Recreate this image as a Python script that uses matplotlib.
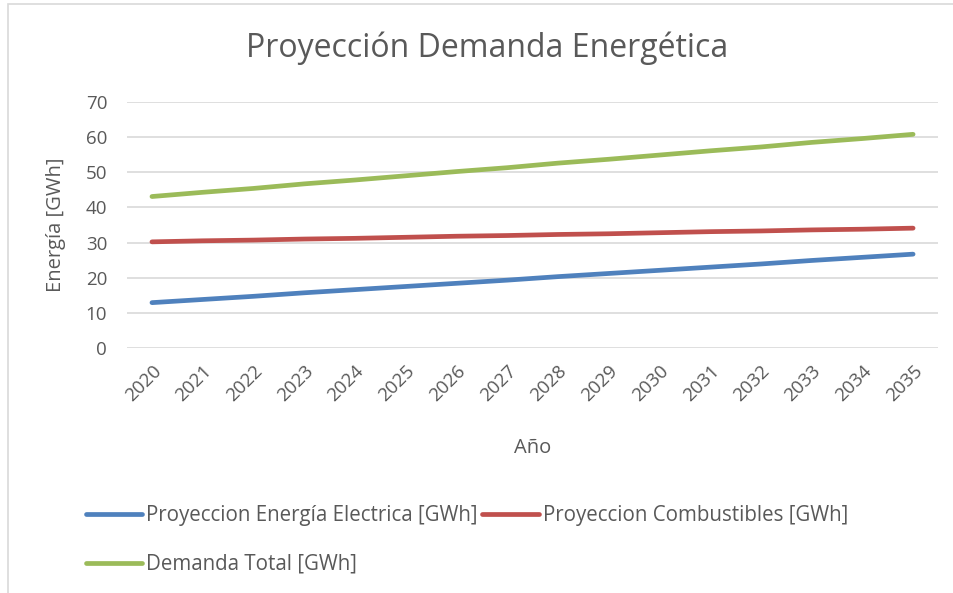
import matplotlib.pyplot as plt
from matplotlib.patches import Rectangle

years = [str(y) for y in range(2020, 2036)]
electrica = [12.9, 13.8, 14.7, 15.7, 16.6, 17.5, 18.4, 19.3,
             20.3, 21.2, 22.1, 23.0, 23.9, 24.9, 25.8, 26.7]
combustibles = [30.2, 30.5, 30.7, 31.0, 31.2, 31.5, 31.8, 32.0,
                32.3, 32.5, 32.8, 33.1, 33.3, 33.6, 33.8, 34.1]
total = [43.1, 44.3, 45.4, 46.7, 47.8, 49.0, 50.2, 51.3,
         52.6, 53.7, 54.9, 56.1, 57.2, 58.5, 59.6, 60.8]

plt.rcParams['font.family'] = ['Open Sans', 'DejaVu Sans']
grey = '#595959'

fig = plt.figure(figsize=(9.54, 5.93), dpi=100)
ax = fig.add_axes([0.1327, 0.4132, 0.851, 0.4148])

x = range(len(years))
l1, = ax.plot(x, electrica, color='#4F81BD', lw=3.4, solid_capstyle='round',
              label='Proyeccion Energía Electrica [GWh]')
l2, = ax.plot(x, combustibles, color='#C0504D', lw=3.4, solid_capstyle='round',
              label='Proyeccion Combustibles [GWh]')
l3, = ax.plot(x, total, color='#9BBB59', lw=3.4, solid_capstyle='round',
              label='Demanda Total [GWh]')

ax.set_xlim(-0.5, len(years) - 0.5)
ax.set_ylim(0, 70)
ax.set_yticks(range(0, 71, 10))
ax.set_xticks(list(x))
ax.set_xticklabels(years, rotation=45, ha='right', rotation_mode='anchor')
ax.tick_params(length=0, colors=grey, labelsize=13.5)
ax.tick_params(axis='y', pad=14)
ax.tick_params(axis='x', pad=10)
ax.grid(axis='y', color='#D9D9D9', lw=1.2)
ax.set_axisbelow(True)
for s in ax.spines.values():
    s.set_visible(False)

fig.text(0.511, 0.919, 'Proyección Demanda Energética', fontsize=23,
         color=grey, ha='center', va='center')
ax.set_xlabel('Año', fontsize=14.5, color=grey, labelpad=24)
ax.set_ylabel('Energía [GWh]', fontsize=14.5, color=grey, labelpad=14)

fig.legend([l1, l3, l2], [l1.get_label(), l3.get_label(), l2.get_label()],
           ncol=2, loc='upper left', bbox_to_anchor=(0.09, 0.148),
           frameon=False, fontsize=14.8, labelcolor=grey, handlelength=2.75,
           handletextpad=0.2, columnspacing=0.2, labelspacing=1.35,
           borderaxespad=0, borderpad=0)

fig.patches.append(Rectangle((0.0085, -0.01), 1.1, 1.003, transform=fig.transFigure,
                             fill=False, edgecolor='#D9D9D9', lw=1.2))

fig.savefig('out.png', dpi=100)
